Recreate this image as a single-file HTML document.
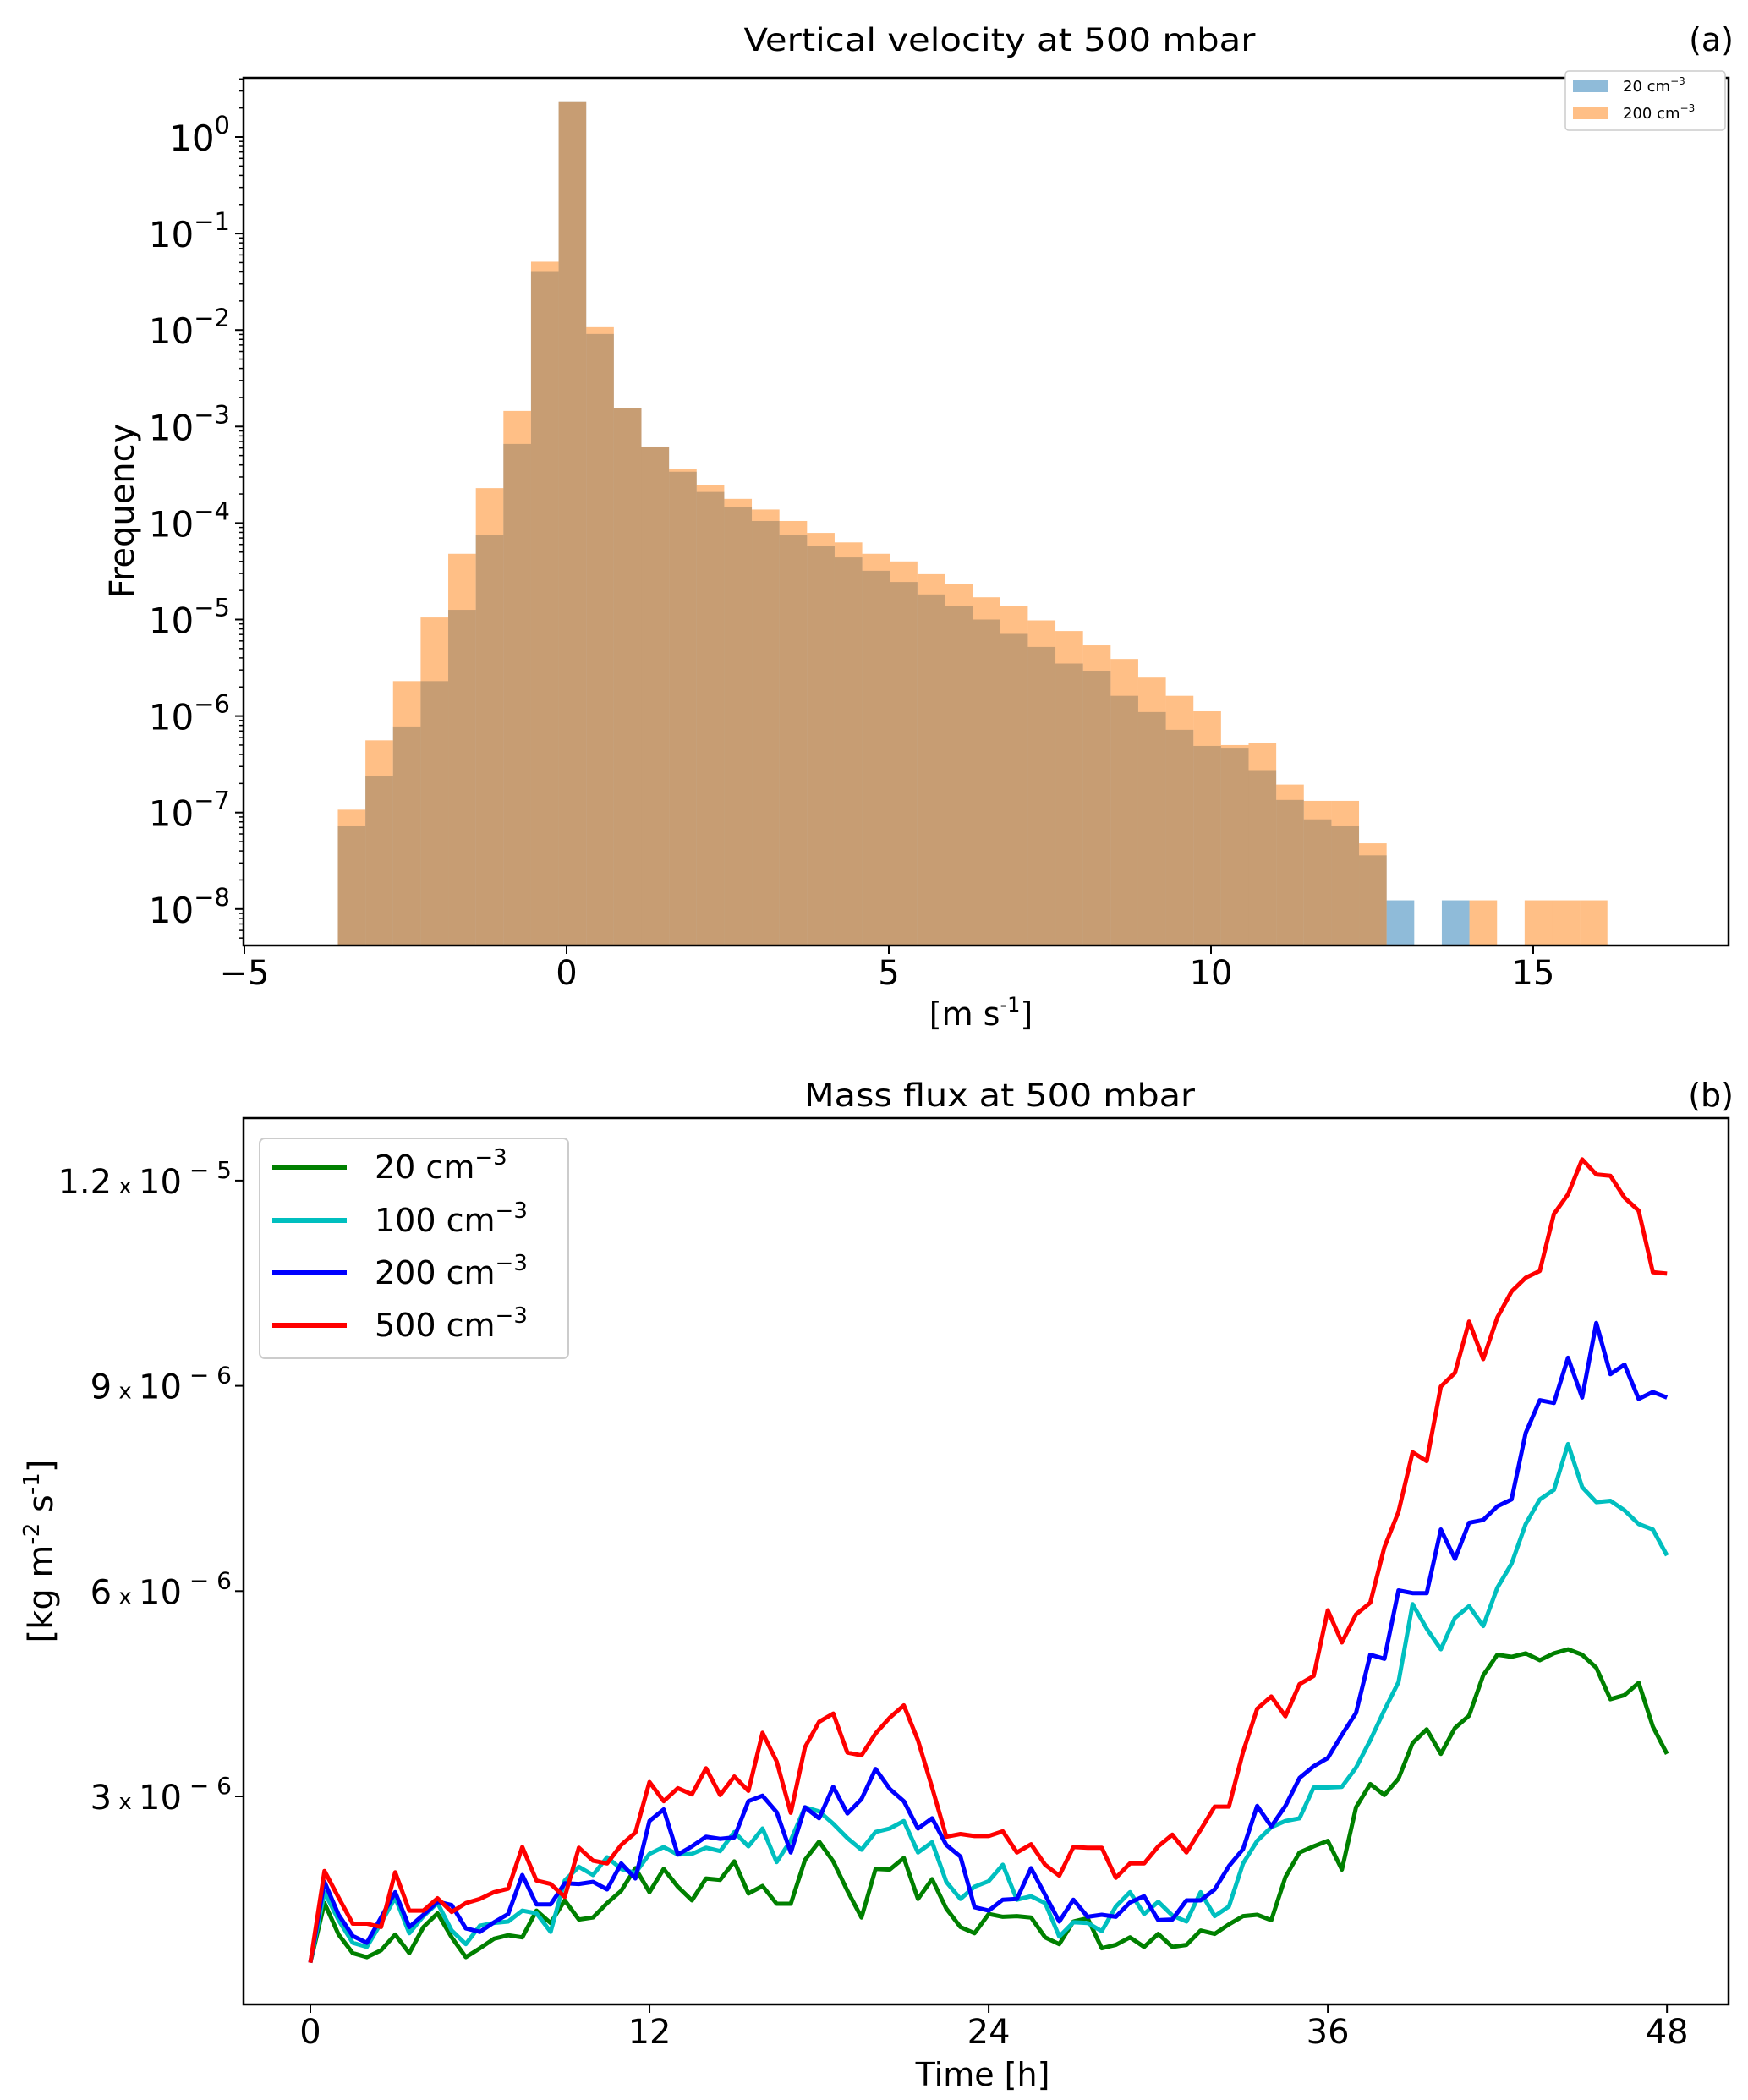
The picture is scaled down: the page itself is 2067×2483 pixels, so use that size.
<!DOCTYPE html>
<html><head><meta charset="utf-8">
<style>
html,body{margin:0;padding:0;background:#fff;}
svg{display:block;font-family:"DejaVu Sans","Liberation Sans",sans-serif;}
</style></head>
<body>
<svg id="fig" width="2067" height="2483" viewBox="0 0 2067 2483" xmlns="http://www.w3.org/2000/svg">
<rect width="2067" height="2483" fill="#fff"/>
<defs>
<clipPath id="clipA"><rect x="288" y="92" width="1756" height="1026"/></clipPath>
<clipPath id="clipB"><rect x="288" y="1322" width="1756" height="1048"/></clipPath>
</defs>
<g id="panelA">
<text x="1182" y="60" font-size="37" text-anchor="middle" textLength="605" lengthAdjust="spacingAndGlyphs">Vertical velocity at 500 mbar</text>
<text x="2050" y="60" font-size="38" text-anchor="end">(a)</text>
<g id="barsA" clip-path="url(#clipA)"></g>
<g id="axesA"></g>
<text transform="translate(158,604) rotate(-90)" font-size="40" text-anchor="middle">Frequency</text>
<text x="1160" y="1212" font-size="38" text-anchor="middle">[m s<tspan font-size="24" dy="-16">-1</tspan><tspan dy="16">]</tspan></text>
<g>
<rect x="1851" y="84" width="189" height="70" rx="4" fill="#fff" stroke="#ccc" stroke-width="1.5"/>
<rect x="1860" y="94" width="42" height="15" fill="#1f77b4" fill-opacity="0.5"/>
<text x="1919" y="108" font-size="18">20 cm<tspan font-size="12" dy="-8">−3</tspan></text>
<rect x="1860" y="126" width="42" height="15" fill="#ff7f0e" fill-opacity="0.5"/>
<text x="1919" y="140" font-size="18">200 cm<tspan font-size="12" dy="-8">−3</tspan></text>
</g>
</g>
<g id="panelB">
<text x="1182" y="1308" font-size="37" text-anchor="middle" textLength="462" lengthAdjust="spacingAndGlyphs">Mass flux at 500 mbar</text>
<text x="2050" y="1308" font-size="38" text-anchor="end">(b)</text>
<g id="linesB" clip-path="url(#clipB)"></g>
<g id="axesB"></g>
<text transform="translate(62,1834) rotate(-90)" font-size="40" text-anchor="middle">[kg m<tspan font-size="26" dy="-16">-2</tspan><tspan dy="16"> s</tspan><tspan font-size="26" dy="-16">-1</tspan><tspan dy="16">]</tspan></text>
<text x="1162" y="2466" font-size="38" text-anchor="middle">Time [h]</text>
<g>
<rect x="307" y="1346" width="365" height="260" rx="6" fill="#fff" stroke="#ccc" stroke-width="2"/>
<line x1="322" x2="410" y1="1380" y2="1380" stroke="#008000" stroke-width="6"/>
<text x="443" y="1393" font-size="38">20 cm<tspan font-size="26" dy="-16">−3</tspan></text>
<line x1="322" x2="410" y1="1443" y2="1443" stroke="#00bfbf" stroke-width="6"/>
<text x="443" y="1456" font-size="38">100 cm<tspan font-size="26" dy="-16">−3</tspan></text>
<line x1="322" x2="410" y1="1505" y2="1505" stroke="#0000ff" stroke-width="6"/>
<text x="443" y="1518" font-size="38">200 cm<tspan font-size="26" dy="-16">−3</tspan></text>
<line x1="322" x2="410" y1="1567" y2="1567" stroke="#ff0000" stroke-width="6"/>
<text x="443" y="1580" font-size="38">500 cm<tspan font-size="26" dy="-16">−3</tspan></text>
</g>
</g>
</svg>
<script>
// ---- Panel (a) data ----
const binStart = -3.55;
const binWidth = 0.4283;
const freq20 = [7.2e-8,2.4e-7,7.8e-7,2.3e-6,1.26e-5,7.6e-5,6.6e-4,4.0e-2,2.3,9.1e-3,1.55e-3,6.2e-4,3.4e-4,2.1e-4,1.45e-4,1.05e-4,7.6e-5,5.8e-5,4.4e-5,3.2e-5,2.45e-5,1.82e-5,1.38e-5,1.0e-5,7.1e-6,5.2e-6,3.5e-6,2.95e-6,1.62e-6,1.1e-6,7.2e-7,4.9e-7,4.6e-7,2.7e-7,1.35e-7,8.5e-8,7.2e-8,3.6e-8,1.23e-8,0,1.23e-8,0,0,0,0,0];
const freq200 = [1.07e-7,5.6e-7,2.3e-6,1.05e-5,4.8e-5,2.3e-4,1.45e-3,5.1e-2,2.3,1.07e-2,1.55e-3,6.2e-4,3.6e-4,2.45e-4,1.78e-4,1.38e-4,1.05e-4,7.9e-5,6.3e-5,4.8e-5,4.0e-5,2.95e-5,2.35e-5,1.7e-5,1.38e-5,9.8e-6,7.6e-6,5.4e-6,3.9e-6,2.5e-6,1.62e-6,1.12e-6,5.0e-7,5.2e-7,1.95e-7,1.32e-7,1.32e-7,4.8e-8,0,0,0,1.23e-8,0,1.23e-8,1.23e-8,1.23e-8];
const xTicksA = [-5,0,5,10,15];
const yTicksExpA = [0,-1,-2,-3,-4,-5,-6,-7,-8];

// ---- Panel (b) data (units of 1e-6 kg m-2 s-1, every 0.5 h) ----
const hourStep = 0.5;
const flux20 = [0.57,1.44,0.98,0.71,0.65,0.75,0.98,0.71,1.09,1.29,0.94,0.65,0.78,0.92,0.97,0.94,1.33,1.15,1.48,1.20,1.23,1.44,1.62,1.95,1.60,
1.94,1.68,1.48,1.80,1.78,2.05,1.58,1.69,1.43,1.43,2.07,2.34,2.05,1.62,1.23,1.94,1.93,2.10,1.50,1.79,1.36,1.09,1.00,1.28,
1.24,1.25,1.23,0.94,0.84,1.17,1.22,0.78,0.83,0.94,0.80,0.99,0.80,0.83,1.04,0.99,1.13,1.25,1.27,1.19,1.82,2.18,2.27,
2.35,1.93,2.84,3.18,3.02,3.26,3.78,3.98,3.62,4.00,4.18,4.77,5.07,5.04,5.09,4.99,5.09,5.15,5.07,4.88,4.42,4.48,4.66,4.02,3.62];
const flux100 = [0.57,1.60,1.19,0.86,0.80,1.15,1.52,1.00,1.25,1.44,1.04,0.84,1.11,1.15,1.17,1.33,1.29,1.02,1.77,1.97,1.85,2.11,1.94,1.88,2.16,
2.26,2.15,2.16,2.25,2.20,2.48,2.27,2.53,2.04,2.36,2.84,2.78,2.60,2.39,2.22,2.48,2.53,2.64,2.18,2.33,1.75,1.50,1.68,1.76,
2.00,1.49,1.54,1.44,0.95,1.16,1.15,1.03,1.39,1.60,1.28,1.46,1.26,1.17,1.60,1.25,1.39,2.02,2.35,2.55,2.64,2.68,3.13,
3.13,3.14,3.42,3.82,4.26,4.67,5.81,5.45,5.15,5.61,5.78,5.49,6.05,6.40,6.98,7.34,7.48,8.15,7.52,7.30,7.32,7.18,6.98,6.90,6.52];
const flux200 = [0.57,1.75,1.27,0.96,0.86,1.23,1.60,1.09,1.27,1.46,1.41,1.07,1.02,1.16,1.28,1.85,1.42,1.42,1.73,1.72,1.75,1.64,2.02,1.80,2.64,
2.81,2.15,2.27,2.41,2.38,2.40,2.93,3.01,2.77,2.18,2.84,2.68,3.14,2.75,2.96,3.40,3.11,2.93,2.53,2.68,2.29,2.12,1.38,1.33,
1.49,1.50,1.95,1.56,1.17,1.49,1.24,1.27,1.24,1.45,1.54,1.19,1.20,1.48,1.48,1.64,1.98,2.23,2.86,2.56,2.86,3.27,3.44,
3.56,3.90,4.22,5.07,5.01,6.01,5.97,5.97,6.90,6.47,7.00,7.04,7.24,7.34,8.31,8.79,8.75,9.41,8.83,9.92,9.17,9.31,8.81,8.91,8.83];
const flux500 = [0.57,1.91,1.52,1.14,1.14,1.09,1.89,1.33,1.33,1.51,1.31,1.44,1.50,1.60,1.65,2.26,1.77,1.72,1.53,2.25,2.06,2.02,2.29,2.47,3.21,
2.93,3.12,3.03,3.41,3.02,3.29,3.08,3.93,3.51,2.76,3.72,4.09,4.21,3.64,3.60,3.92,4.15,4.33,3.82,3.13,2.41,2.45,2.42,2.42,
2.49,2.18,2.30,2.00,1.84,2.26,2.25,2.25,1.81,2.02,2.02,2.27,2.44,2.18,2.51,2.85,2.85,3.65,4.28,4.46,4.17,4.64,4.76,
5.72,5.25,5.66,5.83,6.64,7.16,8.03,7.90,8.99,9.19,9.94,9.39,10.0,10.38,10.58,10.68,11.51,11.80,12.31,12.09,12.07,11.75,11.56,10.66,10.64];
const xTicksB = [0,12,24,36,48];
const yTicksB = [3,6,9,12];
const yTickLabelsB = [["3","6"],["6","6"],["9","6"],["1.2","5"]];

const NS = "http://www.w3.org/2000/svg";
function mk(tag, attrs, parent){ const e=document.createElementNS(NS,tag); for(const k in attrs) e.setAttribute(k,attrs[k]); if(parent) parent.appendChild(e); return e; }

// ---- axes functions ----
const A = {l:288, r:2044, t:92, b:1118};
const xA = v => 670 + v*76.2;
const yA = f => 162 - Math.log10(f)*114.1;
const B = {l:288, r:2044, t:1322, b:2370};
const xB = h => 367 + h*33.42;
const yB = v => 2366.7 - v*80.9;

// ---- panel a bars ----
const barsA = document.getElementById('barsA');
function drawBars(arr, color, name){
  arr.forEach((f,i)=>{
    if(!(f>0)) return;
    const x0 = xA(binStart + i*binWidth), x1 = xA(binStart + (i+1)*binWidth);
    const y = yA(f);
    const r = mk('rect',{x:x0,y:y,width:x1-x0,height:A.b+5-y,fill:color,'fill-opacity':0.5},barsA);
    
    
  });
}
drawBars(freq20,'#1f77b4','bar-20cm');
drawBars(freq200,'#ff7f0e','bar-200cm');

const axesA = document.getElementById('axesA');
mk('rect',{x:A.l,y:A.t,width:A.r-A.l,height:A.b-A.t,fill:'none',stroke:'#000','stroke-width':2.5},axesA);
xTicksA.forEach(v=>{
  const x=xA(v);
  mk('line',{x1:x,x2:x,y1:A.b,y2:A.b+10,stroke:'#000','stroke-width':2},axesA);
  const t=mk('text',{x:x,y:1164,'font-size':40,'text-anchor':'middle'},axesA);
  t.textContent = v<0 ? '−'+Math.abs(v) : String(v);
  
  
});
for(let e=-9;e<=0;e++){
  for(let m=1;m<10;m++){
    const f=m*Math.pow(10,e); const y=yA(f);
    if(y<A.t||y>A.b) continue;
    const len = m===1?10:5;
    mk('line',{x1:A.l-len,x2:A.l,y1:y,y2:y,stroke:'#000','stroke-width':m===1?2:1.5},axesA);
  }
}
yTicksExpA.forEach(e=>{
  const y=yA(Math.pow(10,e));
  const t=mk('text',{x:272,y:y+16,'font-size':42,'text-anchor':'end'},axesA);
  
  
  const s1=mk('tspan',{},t); s1.textContent='10';
  const s2=mk('tspan',{'font-size':29,dy:-20},t); s2.textContent = e===0?'0':'−'+Math.abs(e);
});

// ---- panel b lines ----
const linesB = document.getElementById('linesB');
function drawLine(arr,color,name){
  const pts = arr.map((v,i)=>xB(i*hourStep).toFixed(1)+','+yB(v).toFixed(1)).join(' ');
  const p = mk('polyline',{points:pts,fill:'none',stroke:color,'stroke-width':5,'stroke-linejoin':'round'},linesB);
  
  
}
drawLine(flux20,'#008000','line-20cm');
drawLine(flux100,'#00bfbf','line-100cm');
drawLine(flux200,'#0000ff','line-200cm');
drawLine(flux500,'#ff0000','line-500cm');

const axesB = document.getElementById('axesB');
mk('rect',{x:B.l,y:B.t,width:B.r-B.l,height:B.b-B.t,fill:'none',stroke:'#000','stroke-width':2.5},axesB);
xTicksB.forEach(h=>{
  const x=xB(h);
  mk('line',{x1:x,x2:x,y1:B.b,y2:B.b+10,stroke:'#000','stroke-width':2},axesB);
  const t=mk('text',{x:x,y:2416,'font-size':40,'text-anchor':'middle'},axesB);
  t.textContent=String(h);
  
  
});
yTicksB.forEach((v,i)=>{
  const y=yB(v);
  mk('line',{x1:B.l-10,x2:B.l,y1:y,y2:y,stroke:'#000','stroke-width':2},axesB);
  const t=mk('text',{x:274,y:y+15,'font-size':40,'text-anchor':'end'},axesB);
  
  
  const a=mk('tspan',{},t); a.textContent=yTickLabelsB[i][0];
  const b=mk('tspan',{'font-size':26},t); b.textContent=' x ';
  const c=mk('tspan',{},t); c.textContent='10';
  const d=mk('tspan',{'font-size':28,dy:-18},t); d.textContent=' − '+yTickLabelsB[i][1];
});
</script>
</body></html>
